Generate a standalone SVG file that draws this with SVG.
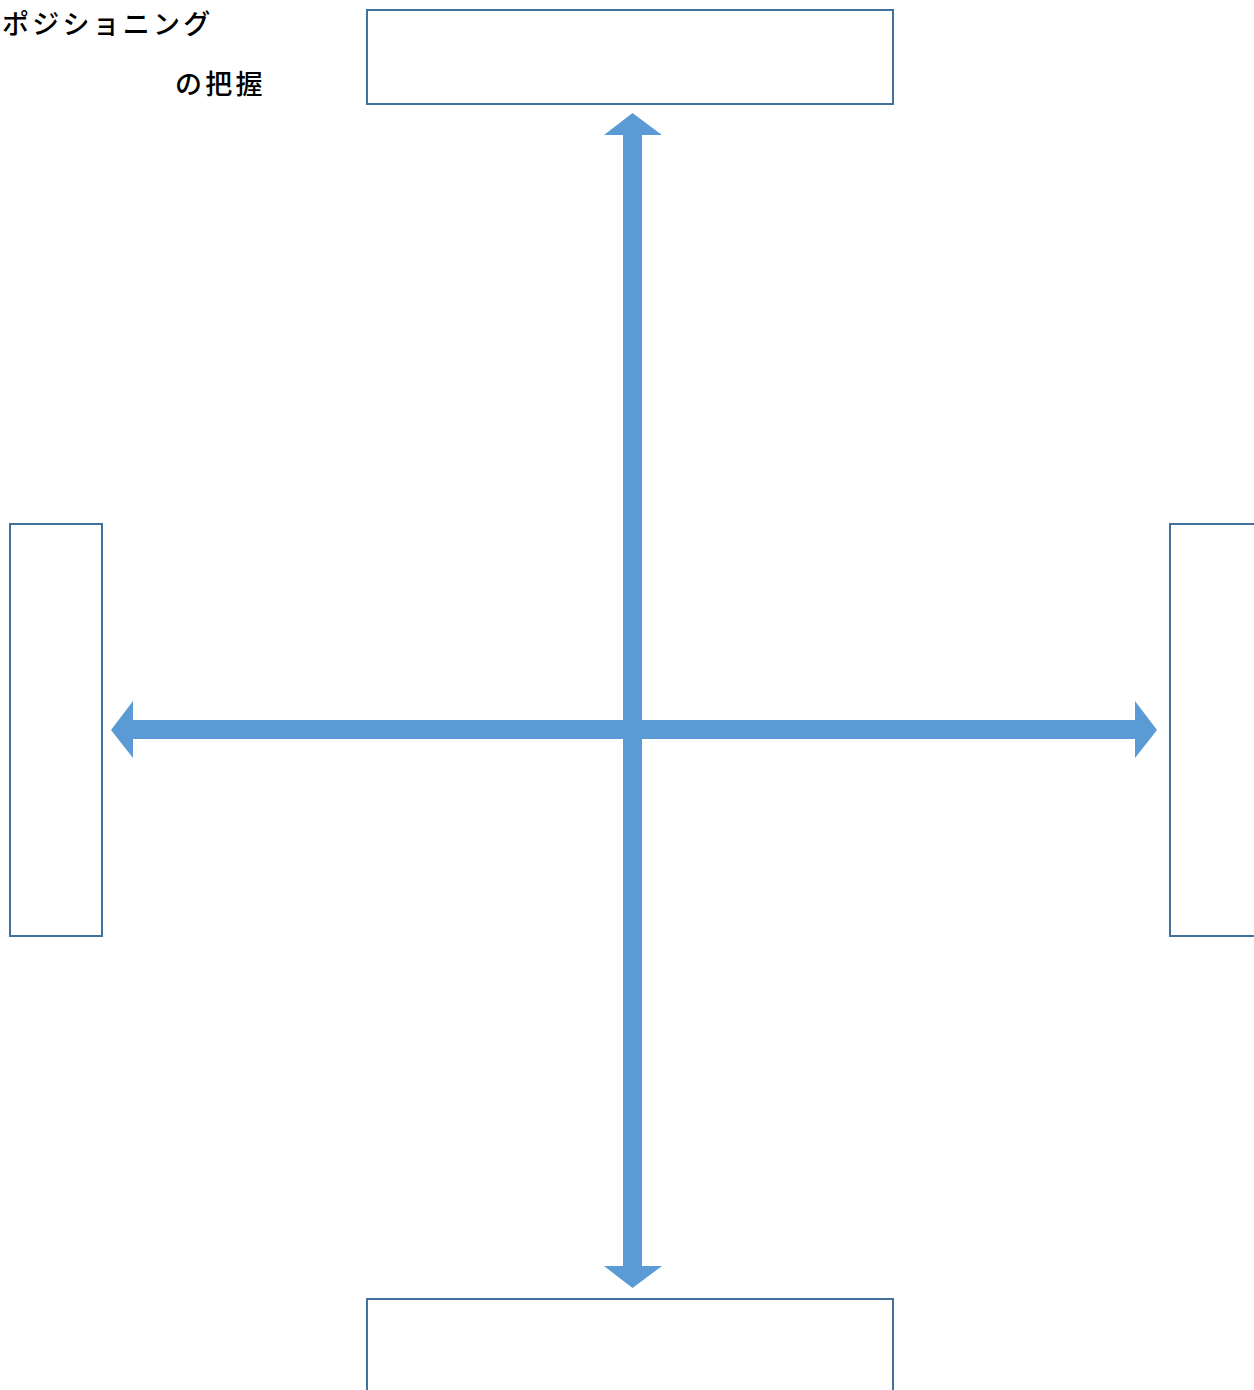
<svg xmlns="http://www.w3.org/2000/svg" width="1254" height="1390" viewBox="0 0 1254 1390">
  <style>
    .box { fill: #ffffff; stroke: #41719c; stroke-width: 2; }
    .axis { fill: #5b9bd5; }
    .title { font-family: "Noto Sans CJK JP", "Noto Sans", sans-serif; font-size: 27px; font-weight: 500; fill: #000000; letter-spacing: 3.2px; }
  </style>
  <rect width="1254" height="1390" fill="#ffffff"/>

  <g id="title">
    <text class="title" x="2" y="34">ポジショニング</text>
    <text class="title" x="175" y="94">の把握</text>
  </g>

  <g id="box-top"><rect class="box" x="367" y="10" width="526" height="94"/></g>
  <g id="box-left"><rect class="box" x="10" y="524" width="92" height="412"/></g>
  <g id="box-right"><rect class="box" x="1170" y="524" width="100" height="412"/></g>
  <g id="box-bottom"><rect class="box" x="367" y="1299" width="526" height="110"/></g>

  <g id="connectors">
    <!-- vertical double-headed axis -->
    <path class="axis" d="M632.5 113 L662 135 L642 135 L642 1266 L662 1266 L632.5 1288 L604 1266 L623 1266 L623 135 L604 135 Z"/>
    <!-- horizontal double-headed axis -->
    <path class="axis" d="M111 730 L133 701 L133 720 L1135 720 L1135 701 L1157 730 L1135 758 L1135 739 L133 739 L133 758 Z"/>
  </g>
</svg>
